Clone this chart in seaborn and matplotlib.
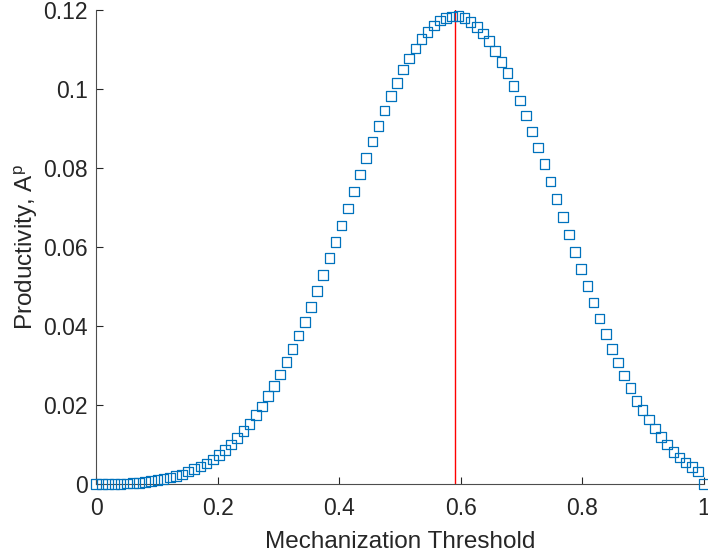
import numpy as np
import pandas as pd
import matplotlib
matplotlib.use("Agg")
import matplotlib.pyplot as plt
import seaborn as sns
from matplotlib.ticker import FuncFormatter

# =========================
# data
# =========================
threshold = np.linspace(0, 1, 100)
productivity = [
    0.0000, 0.0000, 0.0000, 0.0001, 0.0001, 0.0002, 0.0003, 0.0004, 0.0006, 0.0008,
    0.0011, 0.0014, 0.0017, 0.0021, 0.0025, 0.0032, 0.0038, 0.0045, 0.0053, 0.0063,
    0.0074, 0.0087, 0.0101, 0.0117, 0.0135, 0.0153, 0.0175, 0.0197, 0.0223, 0.0249,
    0.0278, 0.0309, 0.0342, 0.0376, 0.0411, 0.0449, 0.0489, 0.0530, 0.0572, 0.0613,
    0.0655, 0.0698, 0.0741, 0.0784, 0.0826, 0.0867, 0.0907, 0.0946, 0.0982, 0.1016,
    0.1049, 0.1077, 0.1103, 0.1126, 0.1145, 0.1161, 0.1173, 0.1180, 0.1184, 0.1185,
    0.1179, 0.1169, 0.1157, 0.1141, 0.1121, 0.1096, 0.1069, 0.1040, 0.1007, 0.0971,
    0.0933, 0.0893, 0.0852, 0.0810, 0.0766, 0.0722, 0.0677, 0.0632, 0.0588, 0.0545,
    0.0502, 0.0460, 0.0419, 0.0380, 0.0343, 0.0308, 0.0275, 0.0244, 0.0211, 0.0188,
    0.0164, 0.0141, 0.0119, 0.0101, 0.0082, 0.0068, 0.0055, 0.0043, 0.0032, 0.0000,
]
peak_x = 0.59

df = pd.DataFrame({"threshold": threshold, "productivity": productivity})

# =========================
# style
# =========================
sns.set_theme(style="ticks")
plt.rcParams['font.family'] = ['Liberation Sans', 'DejaVu Sans']
plt.rcParams['mathtext.fontset'] = 'custom'
plt.rcParams['mathtext.rm'] = 'Liberation Sans'
plt.rcParams['mathtext.it'] = 'Liberation Sans'

fig = plt.figure(figsize=(7.08, 5.56), dpi=100)
ax = fig.add_axes([0.1356, 0.129, 0.8588, 0.853])

ax.axvline(peak_x, color='#ff0000', linewidth=1.0, zorder=1)
sns.scatterplot(data=df, x="threshold", y="productivity", ax=ax,
                marker='s', s=48, facecolor='none', edgecolor='#0072BD',
                linewidth=0.9, clip_on=False, zorder=3)

ax.set_xlim(0, 1)
ax.set_ylim(0, 0.12)
ax.set_xticks([0, 0.2, 0.4, 0.6, 0.8, 1])
ax.set_yticks([0, 0.02, 0.04, 0.06, 0.08, 0.1, 0.12])
fmt = FuncFormatter(lambda v, p: f"{v:g}")
ax.xaxis.set_major_formatter(fmt)
ax.yaxis.set_major_formatter(fmt)

dark = '#262626'
ax.tick_params(direction='in', length=5, width=0.8, colors=dark, labelsize=16.5)
ax.tick_params(axis='x', pad=9)
ax.tick_params(axis='y', pad=6)
for s in ['left', 'bottom']:
    ax.spines[s].set_color('#4d4d4d')
    ax.spines[s].set_linewidth(0.8)
for s in ['top', 'right']:
    ax.spines[s].set_visible(False)

ax.set_xlabel("Mechanization Threshold", fontsize=17.5, color=dark, labelpad=8)
ax.set_ylabel("Productivity, A$^{\\mathrm{p}}$", fontsize=17.5, color=dark, labelpad=2)

fig.savefig("out.png", dpi=100)
